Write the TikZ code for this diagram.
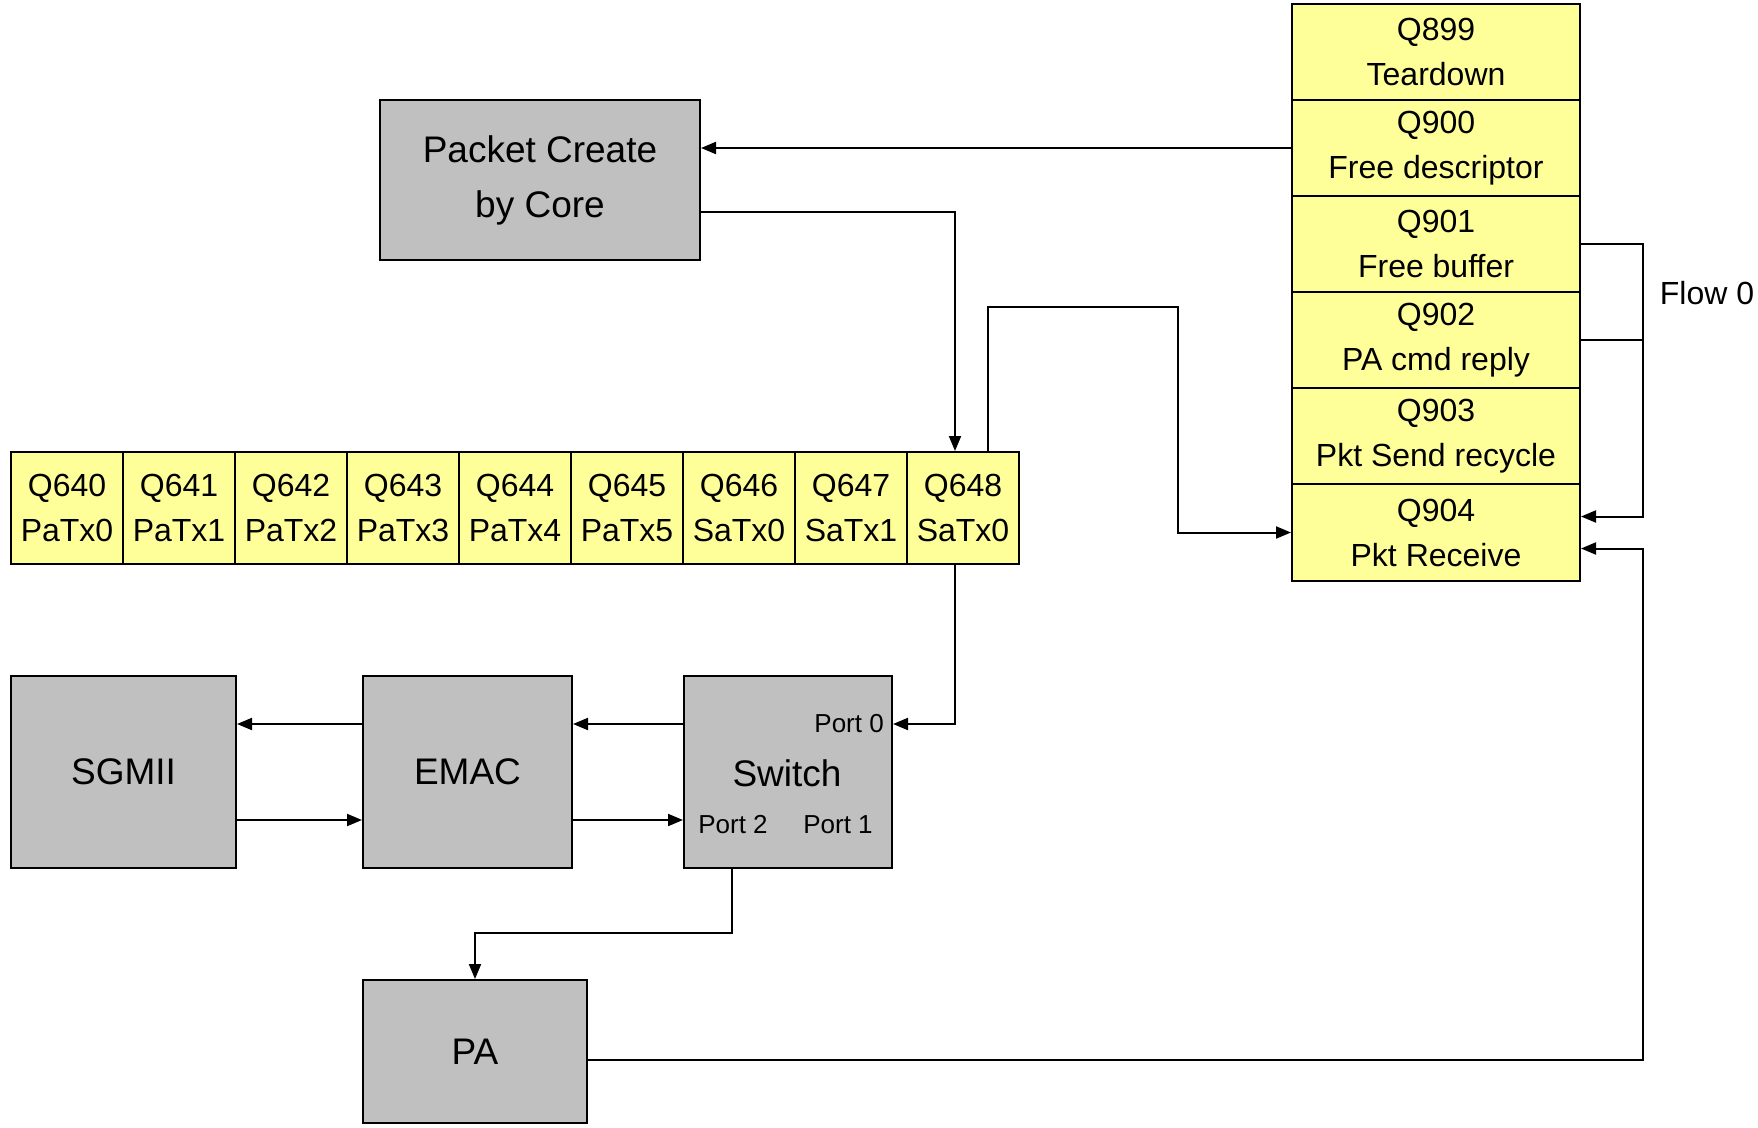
\documentclass[tikz,border=0pt]{standalone}
\usepackage{fontspec}
\setmainfont{Liberation Sans}
\usetikzlibrary{arrows.meta,calc}
\definecolor{qyellow}{RGB}{255,255,153}
\definecolor{bgrey}{RGB}{192,192,192}
\tikzset{
  qcell/.style={draw=black, line width=2pt, fill=qyellow, inner sep=0pt, align=center,
    font=\fontsize{32}{45}\selectfont, anchor=north west},
  gbox/.style={draw=black, line width=2pt, fill=bgrey, inner sep=0pt, align=center,
    font=\fontsize{37}{55}\selectfont, anchor=north west},
  porttxt/.style={inner sep=0pt, font=\fontsize{26}{30}\selectfont},
  conn/.style={line width=2pt},
  arr/.style={line width=2pt, -{Triangle[length=15pt,width=12pt]}},
}
\begin{document}
\begin{tikzpicture}[x=1pt,y=-1pt]
\useasboundingbox (0,0) rectangle (1758,1127);
% vertical queue column
\node[qcell, minimum width=288pt, minimum height=96pt] (q899) at (1291,3) {Q899\\Teardown};
\node[qcell, minimum width=288pt, minimum height=96pt] (q900) at (1291,99) {Q900\\Free descriptor};
\node[qcell, minimum width=288pt, minimum height=96pt] (q901) at (1291,195) {Q901\\Free buffer};
\node[qcell, minimum width=288pt, minimum height=96pt] (q902) at (1291,291) {Q902\\PA cmd reply};
\node[qcell, minimum width=288pt, minimum height=96pt] (q903) at (1291,387) {Q903\\Pkt Send recycle};
\node[qcell, minimum width=288pt, minimum height=97pt] (q904) at (1291,483) {Q904\\Pkt Receive};
% horizontal queue row
\foreach \i/\q/\n in {0/Q640/PaTx0,1/Q641/PaTx1,2/Q642/PaTx2,3/Q643/PaTx3,4/Q644/PaTx4,5/Q645/PaTx5,6/Q646/SaTx0,7/Q647/SaTx1,8/Q648/SaTx0}{
  \node[qcell, minimum width=112pt, minimum height=112pt] (h\i) at ({10+112*\i},451) {\q\\\n};
}
% grey boxes
\node[gbox, minimum width=320pt, minimum height=160pt] (pc) at (379,99) {Packet Create\\by Core};
\node[gbox, minimum width=225pt, minimum height=192pt] (sgmii) at (10,675) {SGMII};
\node[gbox, minimum width=209pt, minimum height=192pt] (emac) at (362,675) {EMAC};
\node[gbox, minimum width=208pt, minimum height=192pt] (sw) at (683,675) {};
\node[inner sep=0pt, font=\fontsize{37}{40}\selectfont] (swt) at (787,773) {Switch};
\node[porttxt, anchor=east] (p0) at (884,724) {Port 0};
\node[porttxt] (p2) at (733,825) {Port 2};
\node[porttxt] (p1) at (838,825) {Port 1};
\node[gbox, minimum width=224pt, minimum height=143pt] (pa) at (362,979) {PA};
% Flow 0 label
\node[inner sep=0pt, font=\fontsize{32}{35}\selectfont] (flow) at (1707,293) {Flow 0};
% helper coordinates
\coordinate (fx) at (1643,0);
\coordinate (r1) at ([yshift=16pt]q904.east);
\coordinate (r2) at ([yshift=-16pt]q904.east);
\coordinate (paout) at ([yshift=-8pt]pa.east);
\coordinate (pcout) at ([yshift=-32pt]pc.east);
\coordinate (q648in) at ([xshift=-8pt]h8.north);
\coordinate (q648up) at ([xshift=25pt]h8.north);
\coordinate (q648d) at ([xshift=-8pt]h8.south);
\coordinate (hi) at ([yshift=48pt]sw.east);
\coordinate (lo) at ([yshift=-48pt]sw.west);
\coordinate (c2) at (1178,307);
% connectors
\draw[arr] (q900.west) -- (q900.west -| pc.east);
\draw[arr] (pcout) -| (q648in);
\draw[arr] (q648up) |- (c2) |- (q904.west);
\draw[conn] (q902.east) -- (q902.east -| fx);
\draw[arr] (q901.east) -- (q901.east -| fx) -- (r1 -| fx) -- (r1);
\draw[arr] (paout) -- (paout -| fx) -- (r2 -| fx) -- (r2);
\draw[arr] (q648d) |- (hi);
\draw[arr] (hi -| sw.west) -- (hi -| emac.east);
\draw[arr] (hi -| emac.west) -- (hi -| sgmii.east);
\draw[arr] (lo -| sgmii.east) -- (lo -| emac.west);
\draw[arr] (lo -| emac.east) -- (lo -| sw.west);
\draw[arr] ([xshift=-56pt]sw.south) -- ++(0,64) -| (pa.north);
\end{tikzpicture}
\end{document}
